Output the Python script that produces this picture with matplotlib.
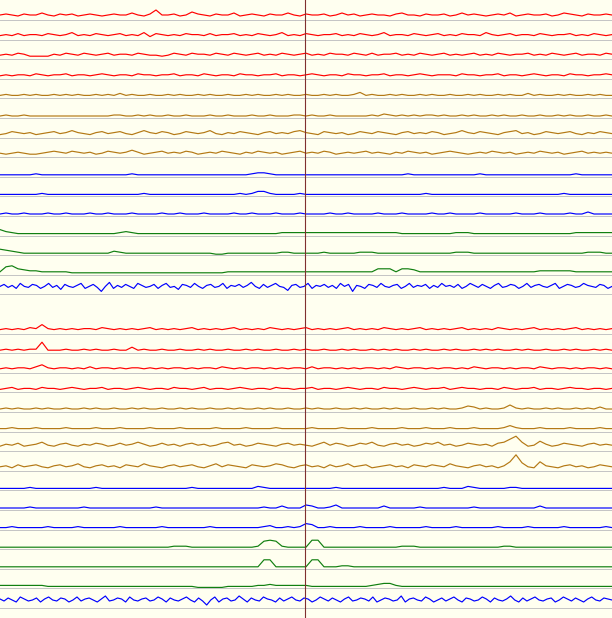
import numpy as np
import matplotlib
matplotlib.use('Agg')
import matplotlib.pyplot as plt

# amplitudes above each channel baseline (pixels)
# --- upper block ---
t_red1 = [5,6,5,4,6,5,5,7,5,4,6,5,6,4,5,6,5,4,5,6,5,5,7,5,4,6,10,5,5,6,4,5,8,6,5,4,6,5,5,7,4,5,6,5,4,6,5,5,7,5,4,6,5,5,6,4,5,7,5,6,4,5,6,5,5,4,6,7,5,5,4,6,5,5,6,4,5,7,5,6,5,4,5,6,5,7,4,5,6,5,5,6,4,5,7,6,5,4,6,5,5,6,5]
t_red2 = [4,5,4,6,4,5,5,4,6,5,4,5,7,4,5,4,6,5,4,5,6,4,5,4,7,3,6,5,4,5,4,6,5,5,4,6,4,5,5,6,4,5,4,6,5,4,5,7,4,5,4,6,5,4,5,5,6,4,5,4,6,5,4,5,7,4,5,5,4,6,5,4,5,6,4,5,4,6,5,5,4,7,5,4,5,6,4,5,5,4,6,5,4,5,5,6,4,5,4,6,5,4,5]
t_red3 = [4,5,4,6,5,3,3,3,3,5,4,6,5,4,6,5,4,5,6,4,5,5,4,6,5,4,4,3,4,6,5,4,6,5,5,4,6,5,4,6,5,4,5,6,4,5,4,6,5,4,5,6,4,5,4,6,5,5,4,6,5,4,6,4,5,5,6,4,5,4,6,5,4,5,6,4,5,4,5,6,4,5,4,6,5,4,5,5,6,4,5,4,6,5,4,5,6,4,5,5,4,6,5]
t_red4 = [3,4,3,4,4,3,5,4,3,4,4,5,3,4,4,3,4,5,4,3,4,4,3,5,4,4,3,4,4,5,3,4,4,3,5,4,3,4,4,3,5,4,4,3,4,4,5,3,4,4,3,4,5,4,3,4,4,3,5,4,4,3,4,4,5,3,4,4,3,4,5,4,3,4,4,4,3,5,4,4,3,4,4,5,3,4,4,3,4,5,4,3,4,4,3,5,4,4,3,4,4,5,4]
t_brn1 = [3,4,3,3,4,3,4,3,3,4,3,4,3,4,3,3,4,3,4,3,5,3,4,3,3,4,3,3,4,3,4,3,3,4,3,4,3,3,4,3,3,4,3,4,3,3,4,3,4,3,3,4,3,3,4,3,4,3,3,4,6,3,4,3,3,4,3,4,3,3,4,3,4,3,3,4,3,3,4,3,4,3,3,4,3,4,3,3,5,3,4,3,3,4,3,4,3,3,4,3,4,3,3]
t_brn2 = [2,3,2,2,3,2,2,2,2,2,2,2,2,2,2,2,2,2,2,3,3,2,2,3,2,3,2,2,3,2,2,3,2,2,2,3,2,2,3,2,2,2,3,2,2,3,2,2,2,3,3,2,3,2,2,3,2,2,2,2,2,2,3,2,4,3,2,3,2,3,2,3,3,2,3,2,2,3,2,3,2,2,3,2,3,2,2,3,2,2,3,2,2,3,2,3,2,2,3,2,2,3,2]
t_brn3 = [3,4,6,5,4,5,3,4,5,6,4,5,7,5,4,3,5,6,4,5,6,4,3,5,7,5,4,6,5,3,4,6,5,4,5,7,4,3,5,4,6,5,4,3,5,6,4,5,4,6,7,5,4,3,6,5,4,5,3,4,6,5,4,6,5,4,3,5,6,4,5,4,6,5,3,4,5,7,5,4,6,5,4,3,5,6,7,4,5,3,4,6,5,4,5,6,4,3,5,4,6,5,4]
t_brn4 = [4,3,4,5,4,3,3,4,5,6,5,4,6,5,4,5,3,4,6,5,4,5,7,5,3,4,5,6,4,5,4,6,5,3,4,5,4,6,5,4,3,5,4,6,5,4,5,3,4,5,6,4,5,4,6,5,3,4,5,4,5,6,4,5,4,3,5,4,6,5,4,5,3,4,5,6,5,4,3,4,5,4,6,5,4,5,3,4,5,4,6,5,4,5,3,4,5,6,4,5,4,5,4]
t_blu1 = [2,2,2,2,2,2,3,2,2,2,2,2,2,2,2,2,2,2,2,2,2,2,3,2,2,2,2,2,2,2,2,2,2,2,2,2,2,2,2,2,2,2,3,4,4,3,2,2,2,2,2,2,2,2,2,2,2,2,2,2,2,2,2,2,2,2,2,2,3,2,2,2,2,2,2,2,2,2,2,2,3,2,2,2,2,2,2,2,2,2,2,2,2,2,2,2,3,2,2,2,2,2,2]
t_blu2 = [2,2,2,2,2,2,2,3,2,2,2,2,2,2,2,2,2,2,2,2,2,2,2,2,3,2,2,2,2,2,2,2,2,2,2,2,2,2,2,2,3,2,3,5,5,3,2,2,2,2,3,2,2,2,2,2,2,2,2,2,2,2,2,2,2,2,2,2,2,2,2,3,2,2,2,2,2,2,2,2,2,2,2,2,2,2,2,2,2,2,2,2,2,2,3,2,2,2,2,2,2,2,2]
t_blu3 = [2,3,2,2,3,2,2,2,3,2,2,3,2,2,2,3,2,2,3,2,2,2,3,2,2,2,2,3,2,2,3,2,2,2,3,2,2,2,2,3,2,2,3,2,2,2,3,2,2,2,3,2,2,2,2,3,2,2,3,2,2,2,2,3,2,2,2,3,2,2,2,2,3,2,2,3,2,2,2,2,3,2,2,2,2,2,3,2,2,2,3,2,2,2,2,3,2,2,4,2,2,2,2]
t_grn1 = [6,4,3,2,2,2,2,2,2,2,2,2,2,2,2,2,2,2,2,2,3,4,3,2,2,2,2,2,2,2,2,2,2,2,2,2,2,2,2,2,2,2,2,2,2,2,2,3,3,3,3,3,3,3,3,3,3,3,3,3,3,3,3,3,3,3,3,2,2,2,2,2,2,2,2,2,3,3,3,2,2,2,2,2,2,2,2,2,2,2,2,2,2,2,2,2,3,3,3,3,3,3,3]
t_grn2 = [6,5,4,3,2,2,2,2,2,2,2,2,2,2,2,2,2,2,2,4,3,2,2,2,2,2,2,2,2,2,2,2,2,2,2,2,1,1,2,2,2,2,2,2,2,2,2,3,3,2,2,2,2,2,3,2,2,2,2,2,3,3,3,2,2,2,2,2,2,2,2,2,2,2,2,2,3,3,3,2,2,2,2,2,2,2,2,2,2,2,2,2,2,2,2,2,2,2,3,3,3,2,2]
t_grn3 = [3,8,9,6,5,4,4,3,3,3,3,3,2,2,2,2,2,2,2,2,2,2,2,2,2,2,2,2,2,2,2,2,2,2,2,2,2,2,3,3,3,3,3,3,3,3,3,3,3,3,3,3,3,3,3,3,3,3,3,3,3,3,3,6,6,6,3,6,6,5,3,3,3,3,3,3,3,3,3,3,3,3,3,3,3,3,3,3,3,3,4,4,4,4,4,4,3,3,3,3,3,3,3]
t_noise = [8,10,7,9,6,11,8,7,10,9,6,8,11,7,9,5,10,8,7,9,11,6,8,10,7,3,8,12,6,9,7,10,8,6,11,9,7,8,10,6,9,11,7,8,5,10,9,7,11,8,6,9,10,7,8,11,6,9,8,10,7,9,12,8,6,10,7,9,11,8,7,4,9,10,7,8,11,6,9,8,10,7,9,6,11,8,10,3,9,8,6,10,9,7,11,8,7,9,10,6,8,11,7,9,8,10,6,9,7,11,8,9,7,10,6,8,11,9,7,10,8,6,9,11,7,8,10,9,6,8,11,7,9,10,8,7,9,11,6,8,10,9,7,8,11,9,8,7,10,9,6,8]

# --- lower block ---
b_red1 = [4,5,4,5,4,6,5,9,5,4,5,4,5,4,5,5,4,6,5,4,5,4,5,4,5,6,4,5,4,5,4,5,6,4,5,4,5,4,5,6,4,5,4,5,4,6,5,4,5,4,5,6,4,5,4,5,4,5,6,4,5,4,5,4,6,5,4,5,4,5,6,4,5,4,5,4,5,6,4,5,4,5,4,6,5,4,5,4,5,6,4,5,4,5,4,5,6,4,5,4,5,4,5]
b_red2 = [3,4,3,4,3,4,4,11,3,3,3,4,3,3,4,3,4,3,3,4,3,3,6,3,4,3,3,4,3,3,4,3,3,4,3,4,3,3,4,3,3,4,3,4,3,3,4,3,3,4,3,4,3,3,4,3,3,4,3,4,3,3,4,3,4,3,4,3,3,4,3,4,3,3,4,3,4,3,3,4,3,4,3,4,3,3,4,3,4,3,3,4,3,3,4,3,4,3,3,4,3,4,3]
b_red3 = [4,5,4,5,5,4,6,8,5,4,5,5,4,5,4,6,4,5,5,4,5,4,5,5,4,5,4,5,4,5,5,4,5,4,5,5,4,6,5,4,5,4,5,5,4,5,4,5,4,5,5,4,6,4,5,5,4,5,4,5,4,5,5,4,5,4,6,5,4,5,5,4,5,4,5,5,4,5,4,6,5,4,5,5,4,5,4,5,5,4,6,5,4,5,5,4,5,4,5,5,4,5,4]
b_red4 = [3,4,5,3,4,4,3,5,4,4,3,4,5,4,3,4,4,5,3,4,4,3,4,5,4,3,4,4,3,5,4,4,3,4,5,3,4,4,3,4,5,4,3,4,4,3,5,4,4,3,4,4,5,3,4,4,3,4,5,4,3,4,4,3,5,4,4,3,4,5,4,3,4,4,5,3,4,5,4,4,3,4,4,3,5,4,3,4,4,5,3,4,4,3,4,5,4,4,3,4,4,3,4]
b_brn1 = [3,4,3,4,3,3,4,3,4,3,3,4,3,3,4,3,4,3,3,4,3,3,4,3,4,3,3,4,3,3,4,3,4,3,3,4,3,3,4,3,4,3,3,4,3,4,3,3,4,3,3,4,3,4,3,3,4,3,3,4,3,4,3,3,4,3,4,3,3,4,3,3,4,3,4,3,3,4,6,5,3,4,3,3,4,7,4,3,4,3,3,4,3,4,3,3,4,3,4,3,5,3,3]
b_brn2 = [3,3,4,3,3,3,4,3,3,3,3,4,3,3,3,3,4,3,3,3,4,3,3,3,3,4,3,3,3,3,4,3,3,3,3,3,4,3,3,3,3,4,3,3,3,3,4,3,3,3,3,3,4,3,3,3,3,4,3,3,3,3,4,3,3,3,3,4,3,3,3,4,3,3,3,4,3,3,3,4,3,3,3,3,4,6,4,3,3,3,4,3,3,3,3,4,3,3,3,3,4,3,3]
b_brn3 = [5,7,6,8,5,6,7,9,6,5,7,8,6,5,7,6,8,7,5,6,8,6,7,9,7,5,6,8,6,7,5,7,8,6,7,5,6,8,9,6,7,5,6,8,7,6,5,7,8,6,7,6,5,7,9,6,8,7,5,6,8,7,9,6,5,7,8,6,7,5,6,8,7,9,6,7,5,6,8,7,6,7,5,8,9,12,15,9,5,6,10,7,5,6,8,7,6,5,7,8,6,7,6]
b_brn4 = [4,5,3,6,4,5,6,4,3,5,6,4,5,7,4,3,5,6,4,5,3,6,5,4,7,5,4,3,5,6,4,5,6,4,3,5,7,4,6,5,4,3,6,5,4,5,7,6,4,3,5,6,4,5,3,6,4,5,7,4,5,6,3,4,5,6,4,5,3,6,5,4,6,5,4,7,5,4,3,5,6,4,5,3,5,9,16,8,4,3,9,5,4,3,5,6,4,5,3,4,6,5,4]
b_blu1 = [2,2,2,2,2,3,2,2,2,2,2,2,2,2,2,2,3,2,2,2,2,2,2,2,2,2,2,2,2,2,2,2,3,2,2,2,2,2,2,2,2,2,2,4,3,2,2,2,2,2,2,2,2,2,2,2,3,2,2,2,2,2,2,2,2,2,2,2,2,2,2,2,2,2,3,2,2,2,4,3,2,2,2,2,2,3,3,2,2,2,2,2,2,2,2,2,2,2,2,2,2,2,2]
b_blu2 = [2,2,2,2,2,3,2,2,2,2,2,2,2,2,3,2,2,2,2,2,2,2,2,2,2,2,3,2,2,2,2,2,2,2,2,2,2,2,2,2,2,2,2,2,3,2,2,4,2,2,2,5,4,2,2,3,5,2,2,2,2,2,2,2,4,2,2,2,2,2,3,2,2,2,2,2,2,2,2,3,2,2,2,2,2,2,2,2,2,2,4,2,2,2,2,2,2,2,2,2,2,2,2]
b_blu3 = [2,2,3,2,2,2,2,2,3,2,2,2,2,3,2,2,2,2,2,2,3,2,2,2,2,2,2,3,2,2,2,2,2,2,2,3,2,2,2,2,2,2,2,2,3,4,2,2,3,2,3,6,5,2,2,3,2,2,2,2,3,2,2,2,2,3,2,2,2,2,2,3,2,2,2,2,3,2,2,2,2,2,2,3,2,2,2,2,3,2,2,2,2,2,3,2,2,2,2,2,2,3,2]
b_grn1 = [2,2,2,2,2,2,2,2,2,2,2,2,2,2,2,2,2,2,2,2,2,2,2,2,2,2,2,2,2,3,3,3,2,2,2,2,2,2,2,2,2,2,2,3,8,9,8,3,2,2,2,2,9,9,2,2,2,2,2,2,2,2,2,2,2,2,2,3,3,3,2,2,2,2,2,2,2,2,2,2,2,2,2,2,3,3,2,2,2,2,2,2,2,2,2,2,2,2,2,2,2,2,2]
b_grn2 = [2,2,2,2,2,2,2,2,2,2,2,2,2,2,2,2,2,2,2,2,2,2,2,2,2,2,2,2,2,2,2,2,2,2,2,2,2,2,2,2,2,2,2,2,9,9,2,2,2,2,2,2,9,9,2,2,2,3,3,2,2,2,2,2,2,2,2,2,2,2,2,2,2,2,2,2,2,2,2,2,2,2,2,2,2,2,2,2,2,2,2,2,2,2,2,2,2,2,2,2,2,2,2]
b_grn3 = [3,3,3,3,3,3,3,3,2,2,2,2,2,2,2,2,2,2,2,2,2,2,2,2,2,2,2,2,2,2,2,2,2,1,1,1,1,1,2,2,2,2,2,3,3,4,3,3,3,3,3,3,2,2,2,2,2,2,2,2,2,2,3,4,5,5,3,2,2,2,2,2,2,2,2,2,2,2,2,2,2,2,2,2,2,2,2,2,2,2,2,2,2,2,2,2,2,2,2,2,2,2,2]
b_noise = [9,7,10,8,6,11,9,7,8,10,6,9,11,8,7,10,9,6,8,11,7,9,10,8,6,9,12,7,8,10,9,6,11,8,7,9,10,7,8,11,9,6,10,8,7,9,11,8,6,10,7,3,8,11,6,9,10,7,8,12,9,6,10,8,7,11,9,8,6,10,7,9,11,8,7,10,9,6,8,11,9,7,10,8,6,9,11,7,8,10,9,7,11,6,8,10,9,7,8,12,6,9,10,8,7,11,9,6,8,10,7,9,11,8,6,10,9,7,8,11,9,6,10,8,7,9,12,8,6,10,7,9,11,8,7,9,10,6,8,11,9,7,10,8,6,9,11,8,7,10,9,8]

RED, BRN, BLU, GRN = '#ff0000', '#b47814', '#0000ff', '#107f10'

upper = [(t_red1, RED), (t_red2, RED), (t_red3, RED), (t_red4, RED),
         (t_brn1, BRN), (t_brn2, BRN), (t_brn3, BRN), (t_brn4, BRN),
         (t_blu1, BLU), (t_blu2, BLU), (t_blu3, BLU),
         (t_grn1, GRN), (t_grn2, GRN), (t_grn3, GRN), (t_noise, BLU)]
lower = [(b_red1, RED), (b_red2, RED), (b_red3, RED), (b_red4, RED),
         (b_brn1, BRN), (b_brn2, BRN), (b_brn3, BRN), (b_brn4, BRN),
         (b_blu1, BLU), (b_blu2, BLU), (b_blu3, BLU),
         (b_grn1, GRN), (b_grn2, GRN), (b_grn3, GRN), (b_noise, BLU)]

W, H = 612, 618
fig = plt.figure(figsize=(W / 100, H / 100), dpi=100)
fig.patch.set_facecolor('#fffff0')
ax = fig.add_axes([0, 0, 1, 1])
ax.set_facecolor('#fffff0')
ax.set_xlim(0, W)
ax.set_ylim(H, 0)
ax.axis('off')

first, step = 20, 19.6
for g, block in enumerate([upper, lower]):
    for j, (vals, col) in enumerate(block):
        base = first + step * (j + 16 * g)
        ax.axhline(base, color='#c4c4c4', lw=0.7, zorder=1)
        x = np.linspace(0, W, len(vals))
        ax.plot(x, base - np.array(vals), color=col, lw=0.85, zorder=2)

# cursor line
ax.axvline(305, color='#803030', lw=0.8, zorder=3)

fig.savefig('out.png', dpi=100, facecolor=fig.get_facecolor())
